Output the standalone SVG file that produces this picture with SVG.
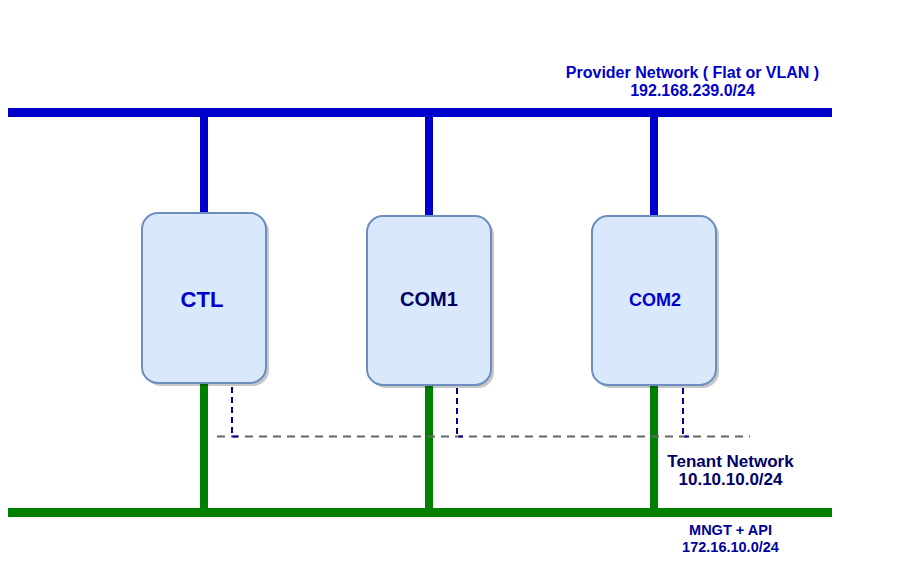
<svg xmlns="http://www.w3.org/2000/svg" width="900" height="584" viewBox="0 0 900 584">
<style>
.bus-blue{stroke:#0000CC;stroke-width:9;fill:none}
.drop-blue{stroke:#0000CC;stroke-width:8;fill:none}
.bus-green{stroke:#008000;stroke-width:9;fill:none}
.drop-green{stroke:#008000;stroke-width:8;fill:none}
.tenant{stroke:#666666;stroke-width:2;stroke-dasharray:8 6;fill:none}
.tlink{stroke:#000099;stroke-width:2;stroke-dasharray:6 4;fill:none}
.box{fill:#dae8fc;stroke:#6c8ebf;stroke-width:2}
.shadow{fill:#000000;opacity:0.22}
text{font-family:"Liberation Sans",Arial,sans-serif;font-weight:bold;text-anchor:middle}
</style>
<rect width="900" height="584" fill="#ffffff"/>
<g id="connectors">
<line class="bus-blue" x1="8" y1="112.5" x2="832" y2="112.5"/>
<line class="drop-blue" x1="204" y1="112" x2="204" y2="213"/>
<line class="drop-blue" x1="429" y1="112" x2="429" y2="216"/>
<line class="drop-blue" x1="654" y1="112" x2="654" y2="216"/>
<line class="bus-green" x1="8" y1="512.5" x2="832" y2="512.5"/>
<line class="drop-green" x1="204" y1="384" x2="204" y2="512"/>
<line class="drop-green" x1="429" y1="386" x2="429" y2="512"/>
<line class="drop-green" x1="654" y1="386" x2="654" y2="512"/>
<line class="tenant" x1="217" y1="436.5" x2="750" y2="436.5"/>
<polyline class="tlink" points="232,387 232,436.5 238,436.5"/>
<polyline class="tlink" points="457,388 457,436.5 463,436.5"/>
<polyline class="tlink" points="683,388 683,436.5 689,436.5"/>
</g>
<g id="provider-label" fill="#0000CC" font-size="16">
<text x="692.5" y="77.5">Provider Network ( Flat or VLAN )</text>
<text x="692.5" y="96">192.168.239.0/24</text>
</g>
<g id="node-ctl">
<rect class="shadow" x="145" y="216" width="124" height="170" rx="16"/>
<rect class="box" x="142" y="213" width="124" height="170" rx="16"/>
<text x="202" y="307" font-size="22" fill="#0000CC">CTL</text>
</g>
<g id="node-com1">
<rect class="shadow" x="370" y="219" width="124" height="169" rx="16"/>
<rect class="box" x="367" y="216" width="124" height="169" rx="16"/>
<text x="429" y="306" font-size="20" fill="#000066">COM1</text>
</g>
<g id="node-com2">
<rect class="shadow" x="595" y="219" width="124" height="169" rx="16"/>
<rect class="box" x="592" y="216" width="124" height="169" rx="16"/>
<text x="655" y="306" font-size="18" fill="#0000CC">COM2</text>
</g>
<g id="tenant-label" fill="#000066" font-size="17">
<text x="730.5" y="466.5">Tenant Network</text>
<text x="730.5" y="485">10.10.10.0/24</text>
</g>
<g id="mgmt-label" fill="#000099" font-size="14.5">
<text x="730.5" y="535">MNGT + API</text>
<text x="730.5" y="552">172.16.10.0/24</text>
</g>
</svg>
